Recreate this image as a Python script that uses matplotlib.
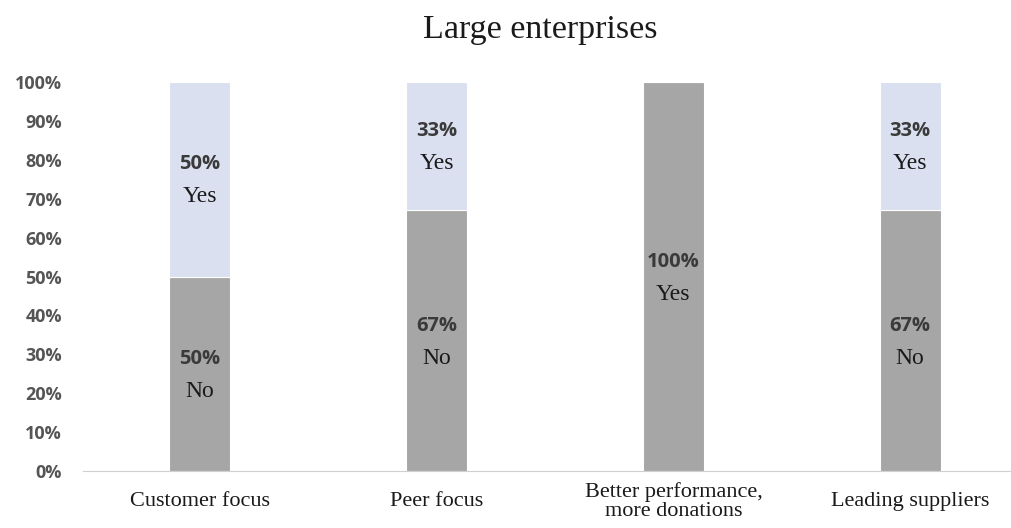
import numpy as np
import matplotlib.pyplot as plt

categories = ['Customer focus', 'Peer focus', 'Better performance,\nmore donations', 'Leading suppliers']
lower_vals = [0.50, 0.67, 1.00, 0.67]
upper_vals = [0.50, 0.33, 0.00, 0.33]
lower_names = ['No', 'No', 'Yes', 'No']
upper_names = ['Yes', 'Yes', '', 'Yes']
y_ticks = np.arange(0, 1.01, 0.1)

grey = '#A6A6A6'
lavender = '#DAE0F0'
serif = ['Liberation Serif', 'DejaVu Serif']
sans = ['Open Sans', 'DejaVu Sans']

fig = plt.figure(figsize=(10.11, 5.28), dpi=100)
ax = fig.add_axes([83 / 1011, 57 / 528, 1 - 83 / 1011, 389 / 528])

x = np.arange(len(categories))
w = 0.258
ax.bar(x, lower_vals, w, color=grey, edgecolor='white', linewidth=0.8)
ax.bar(x, upper_vals, w, bottom=lower_vals, color=lavender, edgecolor='white', linewidth=0.8)


def seg_label(xi, mid, pct, name):
    # percent above the middle of the segment, name below it
    ax.text(xi, mid + 0.038, '%d%%' % round(pct * 100), ha='center', va='center',
            fontsize=14.5, fontweight='bold', color='#3a3a3a', family=sans)
    ax.text(xi, mid - 0.045, name, ha='center', va='center', fontsize=17,
            color='#1a1a1a', family=serif)


for i in range(len(categories)):
    seg_label(x[i], lower_vals[i] / 2, lower_vals[i], lower_names[i])
    if upper_vals[i] > 0:
        seg_label(x[i], lower_vals[i] + upper_vals[i] / 2, upper_vals[i], upper_names[i])

ax.set_xlim(-0.494, 3.426)
ax.set_ylim(0, 1)
ax.set_yticks(y_ticks)
ax.set_yticklabels(['%d%%' % round(v * 100) for v in y_ticks], fontsize=13,
                   fontweight='bold', color='#555555', family=sans)
ax.set_xticks(x)
ax.set_xticklabels(categories, fontsize=16, family=serif, color='#1a1a1a',
                   linespacing=0.95, va='center')
ax.tick_params(axis='both', length=0)
ax.tick_params(axis='x', pad=22)
ax.tick_params(axis='y', pad=15)
for s in ['top', 'right', 'left']:
    ax.spines[s].set_visible(False)
ax.spines['bottom'].set_color('#d0d0d0')

fig.text(540 / 1011, 1 - 30 / 528, 'Large enterprises', ha='center', va='center',
         fontsize=24.5, family=serif, color='#1a1a1a')

fig.savefig('out.png', dpi=100)
